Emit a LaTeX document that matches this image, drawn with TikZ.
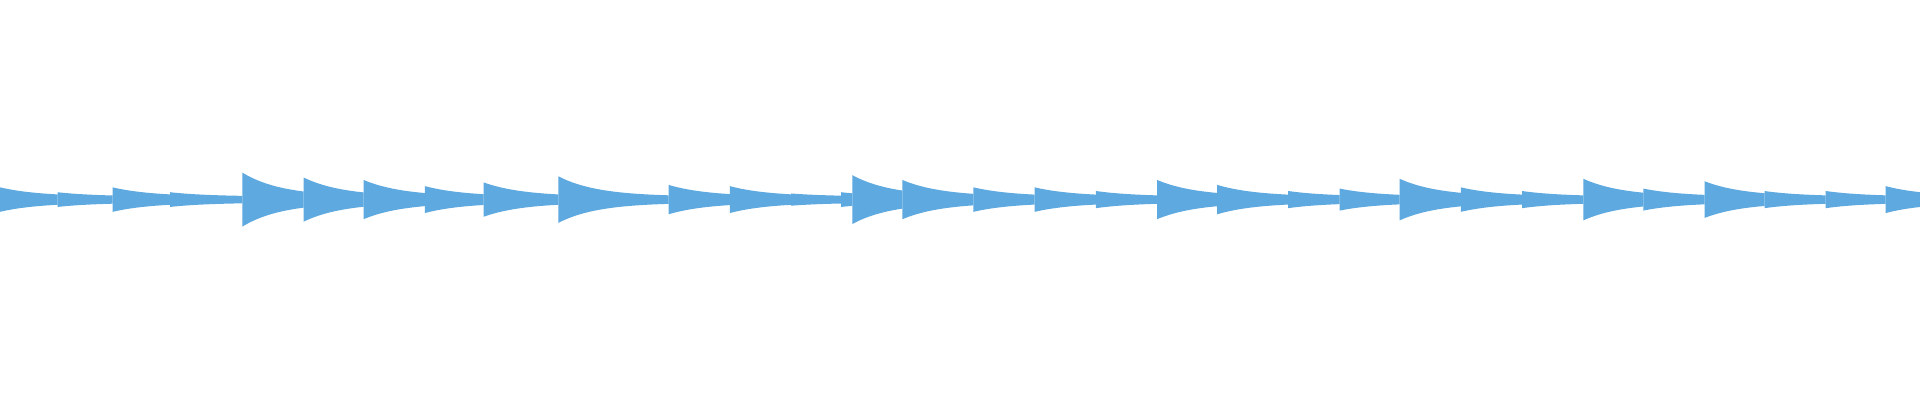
\documentclass[tikz,border=0pt]{standalone}
\usetikzlibrary{calc}
\definecolor{wave}{HTML}{5DA9E0}
\tikzset{note/.style={fill=wave, draw=none}}
\begin{document}
\begin{tikzpicture}[x=1pt, y=1pt]
\useasboundingbox (0,0) rectangle (1568,326.7);
% onset / next onset / amplitude
\foreach \xa/\xb/\amp in {0/47/10, 47/92/6, 92/139/10, 139/198/6, 198/248/22,
  248/297/18, 297/347/16, 347/395/11, 395/456/14, 456/546/19, 546/596/12,
  596/646/11, 646/687/5, 687/696/6, 696/737/20, 737/795/16, 795/845/10,
  845/895/10, 895/945/7, 945/994/16, 994/1052/12, 1052/1094/7, 1094/1143/9,
  1143/1193/17, 1193/1243/10, 1243/1293/7, 1293/1342/17, 1342/1392/9,
  1392/1441/15, 1441/1491/7, 1491/1540/7, 1540/1568/11}
{
  \fill[note] plot[domain=\xa:\xb, samples=25]
      (\x, {163.7 + 2.5 + (\amp-2.5)*exp(-(\x-\xa)/32)})
    -- plot[domain=\xb:\xa, samples=25]
      (\x, {163.7 - 2.5 - (\amp-2.5)*exp(-(\x-\xa)/32)}) -- cycle;
}
\end{tikzpicture}
\end{document}
